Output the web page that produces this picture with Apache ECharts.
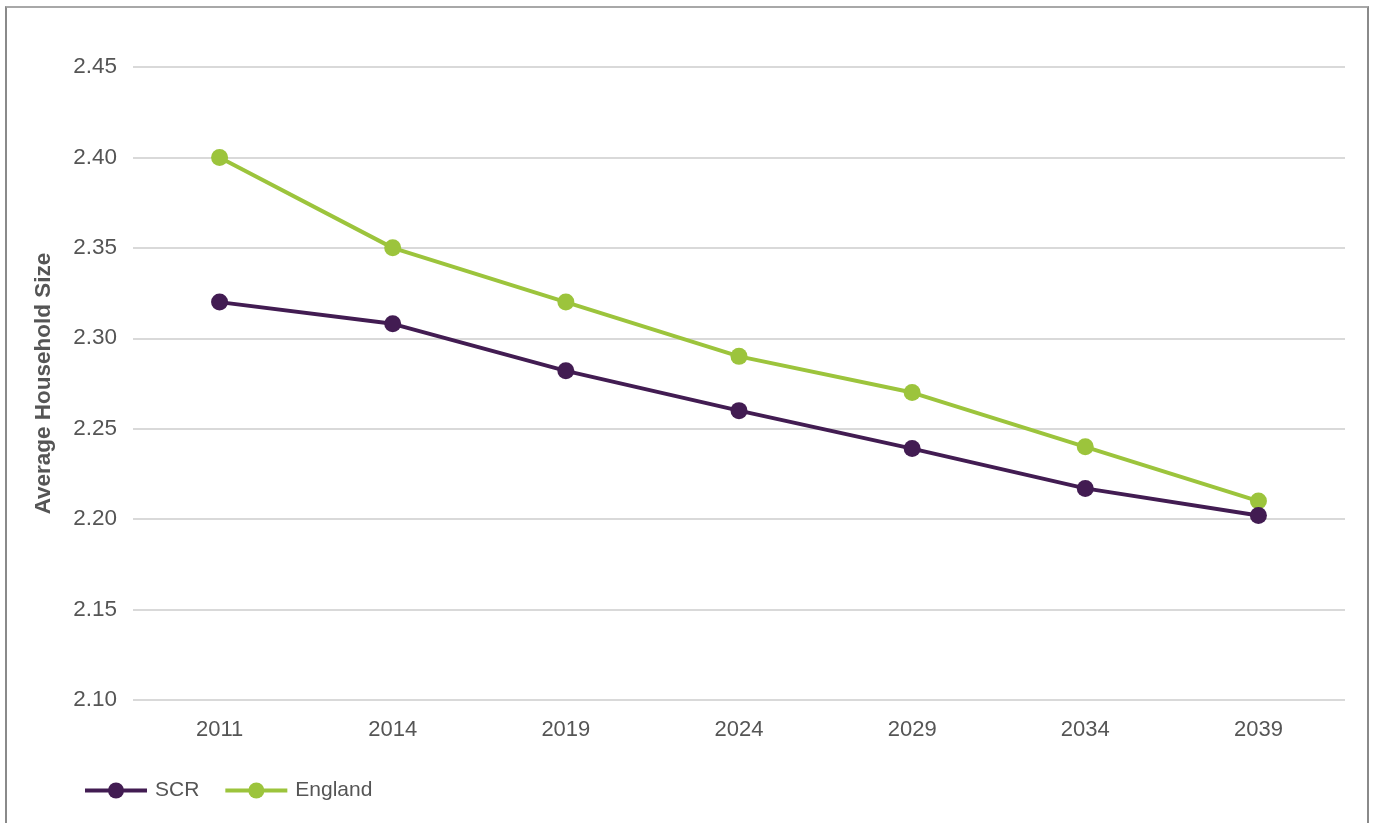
<!DOCTYPE html>
<html>
<head>
<meta charset="utf-8">
<script src="https://cdn.jsdelivr.net/npm/echarts@6/dist/echarts.min.js"></script>
<style>
  html, body { margin: 0; padding: 0; background: #fff; overflow: hidden; }
  #frame { position: absolute; left: 5px; top: 6px; width: 1364px; height: 830px;
           border-top: 2px solid #a8a8a8; border-left: 2px solid #8a8a8a; border-right: 2px solid #8a8a8a; box-sizing: border-box; }
  #chart { position: absolute; left: 0; top: 0; width: 1375px; height: 823px; }
</style>
</head>
<body>
<div id="frame"></div>
<div id="chart"></div>
<script>
// Average household size projections
const years = ['2011', '2014', '2019', '2024', '2029', '2034', '2039'];
const scr = [2.320, 2.308, 2.282, 2.260, 2.239, 2.217, 2.202];
const england = [2.40, 2.35, 2.32, 2.29, 2.27, 2.24, 2.21];

const chart = echarts.init(document.getElementById('chart'), null, { renderer: 'canvas' });
const font = '"Liberation Sans", Arial, Helvetica, sans-serif';

function lineSeries(name, data, color) {
  return {
    name: name,
    type: 'line',
    data: data,
    symbol: 'circle',
    symbolSize: 17,
    showAllSymbol: true,
    lineStyle: { color: color, width: 4 },
    itemStyle: { color: color },
    emphasis: { disabled: true },
    z: name === 'SCR' ? 3 : 2
  };
}

chart.setOption({
  animation: false,
  grid: { left: 133, right: 30, top: 67, bottom: 123, containLabel: false },
  legend: {
    left: 78, top: 775,
    itemWidth: 62, itemHeight: 20, itemGap: 24,
    lineStyle: { width: 4 },
    textStyle: { fontFamily: font, fontSize: 21, color: '#555', padding: [0, 0, 0, 3] },
    data: ['SCR', 'England']
  },
  xAxis: {
    type: 'category',
    data: years,
    boundaryGap: true,
    axisLine: { show: false },
    axisTick: { show: false },
    axisLabel: { fontFamily: font, fontSize: 22, color: '#555', margin: 19 }
  },
  yAxis: {
    type: 'value',
    min: 2.10, max: 2.45, interval: 0.05,
    name: 'Average Household Size',
    nameLocation: 'middle',
    nameGap: 78,
    nameTextStyle: { fontFamily: font, fontSize: 22.5, fontWeight: 'bold', color: '#555' },
    axisLine: { show: false },
    axisTick: { show: false },
    axisLabel: { fontFamily: font, fontSize: 22.5, color: '#555', margin: 16,
                 formatter: v => v.toFixed(2) },
    splitLine: { lineStyle: { color: '#d9d9d9', width: 2 } }
  },
  series: [
    lineSeries('SCR', scr, '#421c52'),
    lineSeries('England', england, '#9cc43c')
  ]
});
</script>
</body>
</html>
